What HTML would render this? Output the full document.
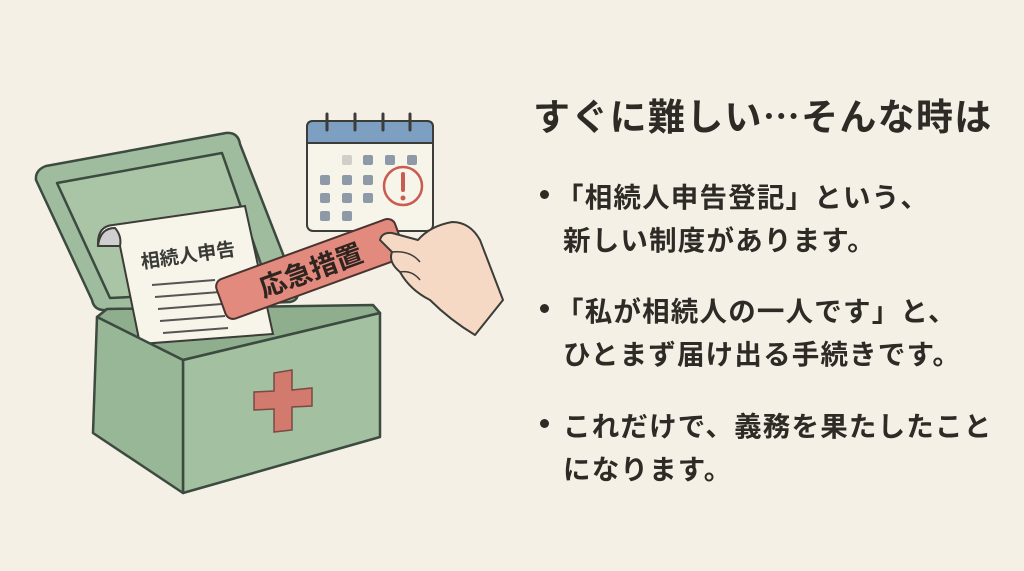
<!DOCTYPE html>
<html><head><meta charset="utf-8"><style>
html,body{margin:0;padding:0;}
body{width:1024px;height:571px;background:#f4f0e5;position:relative;overflow:hidden;font-family:"Liberation Sans","Noto Sans CJK JP",sans-serif;color:#2e2a26;}
.t{position:absolute;white-space:nowrap;font-weight:bold;}
.h{left:533px;top:87px;font-size:37px;letter-spacing:1.3px;}
.b{font-size:27.5px;letter-spacing:1.2px;}
.dot{position:absolute;width:9px;height:9px;border-radius:50%;background:#2e2a26;}
</style></head><body>
<svg width="1024" height="571" style="position:absolute;left:0;top:0">
<g stroke="#3c4a40" stroke-width="2.5" stroke-linejoin="round" fill="#9fbd9e">
 <path d="M36,180 Q35,170 46,166 L226,133 Q238,132 240,144 L297,290 Q300,300 290,302 L104,310 Q94,310 92,300 Z"/>
 <path d="M57,183 L222,153 L270,290 L110,298 Z" fill="#a9c5a6"/>
 <path d="M97,317 L107,309 L373,305 L380,313 L183,360 Z" fill="#8fae8e"/>
</g>
<g stroke="#3c3c38" stroke-width="2" fill="#f7f4ea">
 <path d="M98,246 Q97,226 113,225 L245,206 L273,334 L140,344 L120,246 Z"/>
 <path d="M98,246 Q100,228 115,228 Q122,236 120,246 Z" fill="#cfcfcf"/>
 <g stroke="#555" stroke-width="2">
  <line x1="152" y1="285" x2="215" y2="280"/><line x1="155" y1="297" x2="220" y2="292"/>
  <line x1="158" y1="309" x2="222" y2="304"/><line x1="160" y1="321" x2="225" y2="316"/>
  <line x1="163" y1="333" x2="228" y2="328"/>
 </g>
</g>
<text x="140" y="262" transform="rotate(-8 187 252)" font-size="19" font-weight="bold" fill="#3a3a36" font-family="Liberation Sans, Noto Sans CJK JP, sans-serif">相続人申告</text>
<g stroke="#3c4a40" stroke-width="2.5" stroke-linejoin="round" fill="#9fbd9e">
 <path d="M380,313 L380,437 L183,493 L183,360 Z" fill="#a3c0a1"/>
 <path d="M97,317 L183,360 L183,493 L93,433 Z" fill="#98b797"/>
</g>
<path d="M274,373 L292,370 L292,390 L312,388 L312,406 L292,407 L292,430 L274,432 L274,409 L254,410 L254,392 L274,391 Z" fill="#d37a6e" stroke="#7a4a44" stroke-width="1.5"/>
<g stroke="#3c3c38" stroke-width="2">
 <rect x="307" y="121" width="126" height="110" rx="6" fill="#f7f4ea"/>
 <path d="M307,143 L307,127 Q307,121 313,121 L427,121 Q433,121 433,127 L433,143 Z" fill="#7da0c2"/>
</g>
<g fill="#8f9aa8">
 <rect x="342" y="155" width="10" height="10" rx="2" fill="#cfcfc8"/><rect x="363" y="155" width="10" height="10" rx="2"/><rect x="385" y="155" width="10" height="10" rx="2"/><rect x="407" y="155" width="10" height="10" rx="2"/>
 <rect x="320" y="175" width="10" height="10" rx="2"/><rect x="342" y="175" width="10" height="10" rx="2"/><rect x="363" y="175" width="10" height="10" rx="2"/>
 <rect x="320" y="193" width="10" height="10" rx="2"/><rect x="342" y="193" width="10" height="10" rx="2"/><rect x="363" y="193" width="10" height="10" rx="2"/>
 <rect x="320" y="211" width="10" height="10" rx="2"/><rect x="342" y="211" width="10" height="10" rx="2"/>
</g>
<g stroke="#3c3c38" stroke-width="3" stroke-linecap="round">
 <line x1="327" y1="114" x2="327" y2="130"/><line x1="355" y1="114" x2="355" y2="130"/><line x1="383" y1="114" x2="383" y2="130"/><line x1="410" y1="114" x2="410" y2="130"/>
</g>
<circle cx="403" cy="186" r="19" fill="none" stroke="#c95b50" stroke-width="2.5"/>
<line x1="403" y1="174" x2="403" y2="190" stroke="#c95b50" stroke-width="4" stroke-linecap="round"/>
<circle cx="403" cy="198" r="2.5" fill="#c95b50"/>
<g transform="rotate(-20 310 268)">
 <rect x="215" y="248" width="190" height="42" rx="8" fill="#e28a7d" stroke="#4a3430" stroke-width="2"/>
 <text x="310" y="280" text-anchor="middle" font-size="27" font-weight="bold" fill="#2e2420" font-family="Liberation Sans, Noto Sans CJK JP, sans-serif">応急措置</text>
</g>
<path d="M380,240 Q382,232 392,233 L418,240 Q430,226 452,222 Q470,222 480,240 L503,300 L475,335 Q450,320 430,300 Q410,290 400,272 Q388,262 392,252 Z" fill="#f6d9c4" stroke="#3c3c38" stroke-width="2" stroke-linejoin="round"/>
<path d="M392,252 Q410,250 420,262 M400,272 Q412,270 420,280" fill="none" stroke="#3c3c38" stroke-width="1.5"/>
</svg>
<div class="t h">すぐに難しい⋯そんな時は</div>
<div class="dot" style="left:540px;top:190px"></div>
<div class="t b" style="left:556px;top:175px">「相続人申告登記」という、</div>
<div class="t b" style="left:563px;top:218px">新しい制度があります。</div>
<div class="dot" style="left:540px;top:304px"></div>
<div class="t b" style="left:556px;top:289px">「私が相続人の一人です」と、</div>
<div class="t b" style="left:563px;top:332px">ひとまず届け出る手続きです。</div>
<div class="dot" style="left:540px;top:419px"></div>
<div class="t b" style="left:563px;top:404px">これだけで、義務を果たしたこと</div>
<div class="t b" style="left:563px;top:447px">になります。</div>
</body></html>
